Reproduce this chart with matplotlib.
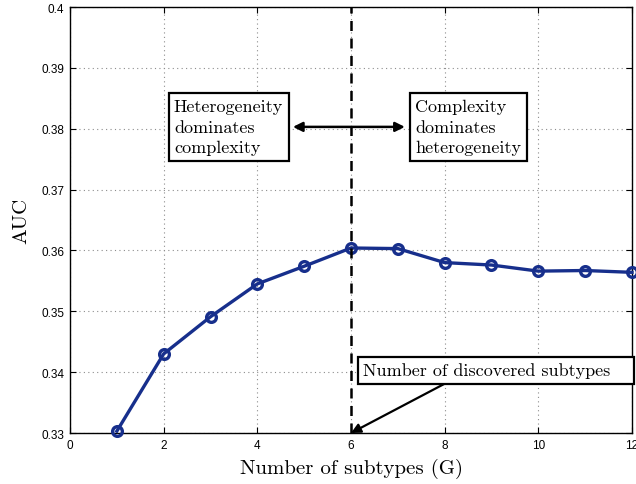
import matplotlib
matplotlib.use("Agg")
import matplotlib.pyplot as plt

subtypes = [1, 2, 3, 4, 5, 6, 7, 8, 9, 10, 11, 12]
auc = [0.3303, 0.3430, 0.3491, 0.3545, 0.3574, 0.3604, 0.3603, 0.3580, 0.3576, 0.3566, 0.3567, 0.3564]
xticks = [0, 2, 4, 6, 8, 10, 12]
yticks = [0.33, 0.34, 0.35, 0.36, 0.37, 0.38, 0.39, 0.40]
ytick_labels = ["0.33", "0.34", "0.35", "0.36", "0.37", "0.38", "0.39", "0.4"]
discovered = 6

serif = ["cmr10", "DejaVu Serif"]
sans = ["Liberation Sans", "DejaVu Sans"]

fig = plt.figure(figsize=(6.36, 4.85), dpi=100)
ax = fig.add_axes([70/636, 1-434/485, 562/636, 426/485])

ax.plot(subtypes, auc, color="#172f8c", lw=2.4, marker="o", ms=7,
        mfc="none", mec="#172f8c", mew=2.4, clip_on=False, zorder=3)
ax.axvline(discovered, color="black", lw=1.8, ls=(0, (4, 3)), zorder=4)

ax.set_xlim(0, 12)
ax.set_ylim(0.33, 0.40)
ax.set_xticks(xticks)
ax.set_xticklabels([str(t) for t in xticks], family=sans, fontsize=8.5)
ax.set_yticks(yticks)
ax.set_yticklabels(ytick_labels, family=sans, fontsize=8.5)
ax.tick_params(direction="in", length=4, width=0.8, top=True, right=True, pad=4)
ax.grid(True, color="#8c8c8c", ls=(0, (1, 3)), lw=0.8)
for s in ax.spines.values():
    s.set_linewidth(1.0)

ax.set_xlabel("Number of subtypes (G)", family=serif, fontsize=15, labelpad=5)
ax.set_ylabel("AUC", family=serif, fontsize=15, labelpad=8)

box = dict(boxstyle="square,pad=0.3", fc="white", ec="black", lw=1.6)
ax.text(2.22, 0.3803, "Heterogeneity\ndominates\ncomplexity", family=serif,
        fontsize=13, ha="left", va="center", bbox=box, linespacing=1.45, zorder=5)
ax.text(7.37, 0.3803, "Complexity\ndominates\nheterogeneity", family=serif,
        fontsize=13, ha="left", va="center", bbox=box, linespacing=1.45, zorder=5)
ax.annotate("", xy=(4.76, 0.3803), xytext=(7.15, 0.3803),
            arrowprops=dict(arrowstyle="<|-|>", color="black", lw=1.8,
                            mutation_scale=14, shrinkA=0, shrinkB=0), zorder=5)
ax.text(6.26, 0.3403, "Number of discovered subtypes   ", family=serif,
        fontsize=13, ha="left", va="center", bbox=box, zorder=5)
ax.annotate("", xy=(discovered, 0.33), xytext=(8.0, 0.3381),
            arrowprops=dict(arrowstyle="-|>", color="black", lw=1.6,
                            mutation_scale=14, shrinkA=0, shrinkB=0), zorder=4)

fig.savefig("out.png", dpi=100)
